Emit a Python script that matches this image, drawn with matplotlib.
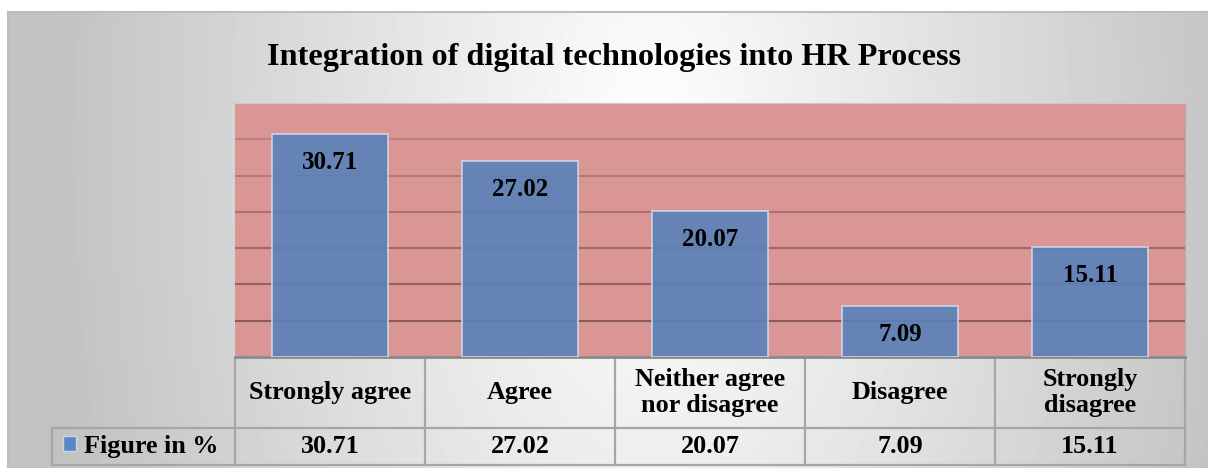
import numpy as np
import matplotlib.pyplot as plt
from matplotlib.patches import Patch

title = 'Integration of digital technologies into HR Process'
categories = ['Strongly agree', 'Agree', 'Neither agree\nnor disagree', 'Disagree', 'Strongly\ndisagree']
values = [30.71, 27.02, 20.07, 7.09, 15.11]
value_labels = ['30.71', '27.02', '20.07', '7.09', '15.11']
series_name = 'Figure in %'
y_ticks = [0, 5, 10, 15, 20, 25, 30, 35]

plt.rcParams['font.family'] = ['Liberation Serif', 'DejaVu Serif']
plt.rcParams['font.weight'] = 'bold'

W, H = 1208, 468
fig = plt.figure(figsize=(W / 100, H / 100), dpi=100)
fig.patch.set_facecolor('white')

# light radial gradient behind the whole chart
bg = fig.add_axes([8 / W, 0, 1200 / W, 456 / H], zorder=-5)
xx, yy = np.meshgrid(np.arange(1200), np.arange(456))
r = np.sqrt(((xx + 8 - 650) / 600.0) ** 2 + ((yy + 12 - 150) / 1100.0) ** 2)
shade = 1 - 0.24 * np.clip(r, 0, 1)
bg.imshow(shade, cmap='gray', vmin=0, vmax=1, aspect='auto', interpolation='bilinear')
bg.set_xticks([])
bg.set_yticks([])
for side in ['right', 'bottom']:
    bg.spines[side].set_visible(False)
for side in ['top', 'left']:
    bg.spines[side].set_color('#bdbdbd')
    bg.spines[side].set_linewidth(1.5)

fig.text(0.508, 0.877, title, ha='center', va='center', fontsize=23.2, fontweight='bold')

ax = fig.add_axes([235 / W, 111 / H, 950 / W, 254 / H])
ax.set_facecolor('#D99694')
x = np.arange(len(categories))
bars = ax.bar(x, values, width=0.61, color='#5881B9', alpha=0.9,
              edgecolor='#d3dbea', linewidth=1.2, zorder=3)
ax.set_xlim(-0.5, len(categories) - 0.5)
ax.set_ylim(y_ticks[0], y_ticks[-1])
ax.set_yticks(y_ticks)
ax.set_axisbelow(True)
ax.yaxis.grid(True, color='#4a2a2a', lw=1.5)
grid_lines = ax.get_ygridlines()
for i, gl in enumerate(grid_lines):
    if i == 0 or i == len(grid_lines) - 1:
        gl.set_visible(False)
    else:
        gl.set_alpha(0.62 - 0.07 * i)
ax.tick_params(length=0, labelleft=False, labelbottom=False)
ax.spines['left'].set_visible(False)
ax.spines['top'].set_color('#d8c4c4')
ax.spines['right'].set_color('#c0a8a8')
ax.spines['bottom'].set_color('#8a8a8a')
ax.spines['bottom'].set_linewidth(2)

for xi, v, lab in zip(x, values, value_labels):
    ax.annotate(lab, (xi, v), xytext=(0, -20.5), textcoords='offset points',
                ha='center', va='center', fontsize=18, fontweight='bold', zorder=5)

# data table under the plot
trans = ax.get_xaxis_transform()
row_top, row_mid, row_bot = 0, -0.2795, -0.425
edges = np.arange(len(categories) + 1) - 0.5
left_edge = edges[0] - 183 / 190
tc = '#a6a6a6'
for e in edges:
    ax.plot([e, e], [row_top, row_bot], transform=trans, clip_on=False, color=tc, lw=1.6)
for yy_ in [row_mid, row_bot]:
    ax.plot([left_edge, edges[-1]], [yy_, yy_], transform=trans, clip_on=False, color=tc, lw=1.6)
ax.plot([left_edge, left_edge], [row_mid, row_bot], transform=trans, clip_on=False, color=tc, lw=1.6)

for xi, cat, lab in zip(x, categories, value_labels):
    ax.text(xi, (row_top + row_mid) / 2, cat, transform=trans, ha='center', va='center',
            fontsize=18.8, fontweight='bold')
    ax.text(xi, (row_mid + row_bot) / 2, lab, transform=trans, ha='center', va='center',
            fontsize=18.8, fontweight='bold')

handle = Patch(facecolor='#5b86c2', edgecolor='#c8d4ea')
ax.legend([handle], [series_name], loc='center left', bbox_to_anchor=(-0.181, (row_mid + row_bot) / 2),
          frameon=False, fontsize=18.8, handlelength=0.5, handleheight=0.5,
          handletextpad=0.3, borderpad=0, borderaxespad=0)

fig.savefig('out.png', dpi=100)
